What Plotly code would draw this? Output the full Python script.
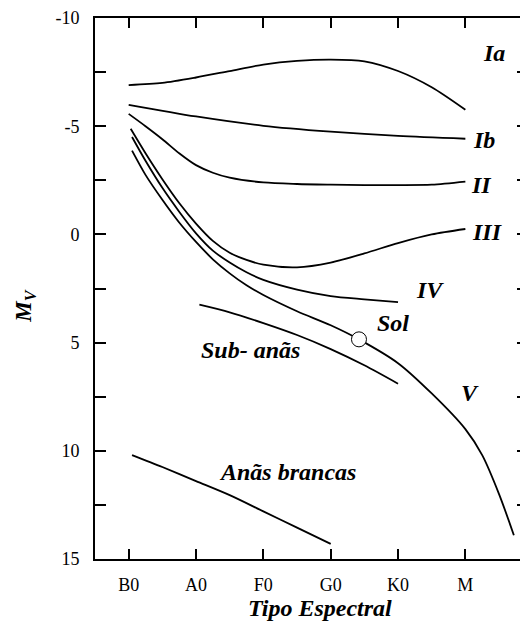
import plotly.graph_objects as go

# Spectral type positions (index) and tick labels
spec_pos = [0, 1, 2, 3, 4, 5]
spec_labels = ["B0", "A0", "F0", "G0", "K0", "M"]

mv_major = [-10, -5, 0, 5, 10, 15]
mv_major_text = ["-10", "-5", "0", "5", "10", "15"]
mv_all = [-10, -7.5, -5, -2.5, 0, 2.5, 5, 7.5, 10, 12.5, 15]

# Luminosity classes (x = spectral-type index, y = M_V)
ia_x = [0, 0.5, 1, 1.5, 2, 2.5, 3, 3.5, 4, 4.5, 5]
ia_y = [-6.9, -7.0, -7.25, -7.55, -7.85, -8.02, -8.08, -8.0, -7.55, -6.8, -5.76]

ib_x = [0, 1, 2, 3, 4, 5]
ib_y = [-5.99, -5.45, -5.02, -4.75, -4.55, -4.42]

ii_x = [0, 0.25, 0.5, 0.75, 1, 1.25, 1.5, 2, 2.5, 3, 3.5, 4, 4.5, 5]
ii_y = [-5.57, -5.0, -4.4, -3.75, -3.2, -2.85, -2.62, -2.4, -2.33, -2.3, -2.28, -2.28, -2.3, -2.44]

iii_x = [0.03, 0.25, 0.5, 0.75, 1, 1.25, 1.5, 1.75, 2, 2.5, 3, 3.5, 4, 4.5, 5]
iii_y = [-4.88, -3.75, -2.55, -1.45, -0.5, 0.3, 0.85, 1.18, 1.4, 1.52, 1.3, 0.88, 0.4, 0.0, -0.25]

iv_x = [0.05, 0.25, 0.5, 0.75, 1, 1.25, 1.5, 1.75, 2, 2.5, 3, 3.5, 4]
iv_y = [-4.5, -3.4, -2.15, -1.05, -0.05, 0.75, 1.3, 1.75, 2.1, 2.55, 2.85, 3.0, 3.13]

v_x = [0.05, 0.25, 0.5, 0.75, 1, 1.25, 1.5, 1.75, 2, 2.5, 3, 3.42, 4, 4.5, 5, 5.25, 5.5, 5.72]
v_y = [-3.87, -2.75, -1.6, -0.55, 0.35, 1.15, 1.8, 2.35, 2.8, 3.55, 4.2, 4.85, 5.95, 7.35, 9.0, 10.2, 12.0, 13.9]

sub_x = [1.05, 1.5, 2, 2.5, 3, 3.5, 4]
sub_y = [3.25, 3.6, 4.1, 4.65, 5.3, 6.05, 6.9]

wd_x = [0.05, 0.5, 1, 1.5, 2, 2.5, 3]
wd_y = [10.2, 10.75, 11.4, 12.05, 12.8, 13.55, 14.3]

sun_x = [3.42]
sun_y = [4.85]

# Labels
lab_text = ["Ia", "Ib", "II", "III", "IV", "Sol", "Sub- anãs", "V", "Anãs brancas"]
lab_x = [5.42, 5.28, 5.24, 5.33, 4.48, 3.92, 1.81, 5.07, 2.36]
lab_y = [-8.4, -4.37, -2.3, -0.1, 2.58, 4.1, 5.34, 7.32, 11.0]

FONT = "Liberation Serif"

fig = go.Figure()
line_style = dict(color="black", width=1.8, shape="spline", smoothing=0.8)
for xs, ys in [(ia_x, ia_y), (ib_x, ib_y), (ii_x, ii_y), (iii_x, iii_y),
               (iv_x, iv_y), (v_x, v_y), (sub_x, sub_y), (wd_x, wd_y)]:
    fig.add_trace(go.Scatter(x=xs, y=ys, mode="lines", line=line_style,
                             showlegend=False, hoverinfo="skip"))

fig.add_trace(go.Scatter(x=sun_x, y=sun_y, mode="markers",
                         marker=dict(size=15, color="white",
                                     line=dict(color="black", width=1)),
                         showlegend=False))

# invisible trace to host the right-side tick axis
fig.add_trace(go.Scatter(x=[None], y=[None], yaxis="y2", showlegend=False))

for t, x, y in zip(lab_text, lab_x, lab_y):
    fig.add_annotation(x=x, y=y, text="<b><i>%s</i></b>" % t, showarrow=False,
                       font=dict(family=FONT, size=24, color="black"),
                       xanchor="center", yanchor="middle")

fig.add_annotation(xref="paper", yref="paper", x=-0.162, y=0.468,
                   text="<b><i>M</i></b><sub><b><i>V</i></b></sub>",
                   textangle=-90, showarrow=False,
                   font=dict(family=FONT, size=23, color="black"),
                   xanchor="center", yanchor="middle")
fig.add_annotation(xref="paper", yref="paper", x=0.52, y=-0.09,
                   text="<b><i>Tipo Espectral</i></b>", showarrow=False,
                   font=dict(family=FONT, size=24, color="black"),
                   xanchor="center", yanchor="middle")

fig.update_layout(
    width=520, height=629,
    margin=dict(l=87, r=0, t=8, b=78),
    paper_bgcolor="white", plot_bgcolor="white",
    font=dict(family=FONT, size=18, color="black"),
    xaxis=dict(range=[-0.5, 5.93], tickvals=spec_pos, ticktext=spec_labels,
               ticks="inside", ticklen=10, tickwidth=2, tickcolor="black",
               showline=True, linecolor="black", linewidth=2, mirror="ticks",
               showgrid=False, zeroline=False, ticklabelstandoff=8,
               tickfont=dict(family=FONT, size=18)),
    yaxis=dict(range=[15, -10], tickvals=mv_major, ticktext=mv_major_text,
               ticks="inside", ticklen=11, tickwidth=2, tickcolor="black",
               minor=dict(ticks="inside", ticklen=11, tickwidth=2,
                          tickcolor="black", tick0=0, dtick=2.5, showgrid=False),
               showline=True, linecolor="black", linewidth=2,
               showgrid=False, zeroline=False, ticklabelstandoff=10,
               ticklabeloverflow="allow",
               tickfont=dict(family=FONT, size=18)),
    yaxis2=dict(range=[15, -10], tickvals=mv_all, overlaying="y", side="right",
                ticks="inside", ticklen=11, tickwidth=2, tickcolor="black",
                showticklabels=False, showline=False, showgrid=False,
                zeroline=False),
)

fig.write_html("out.html")
